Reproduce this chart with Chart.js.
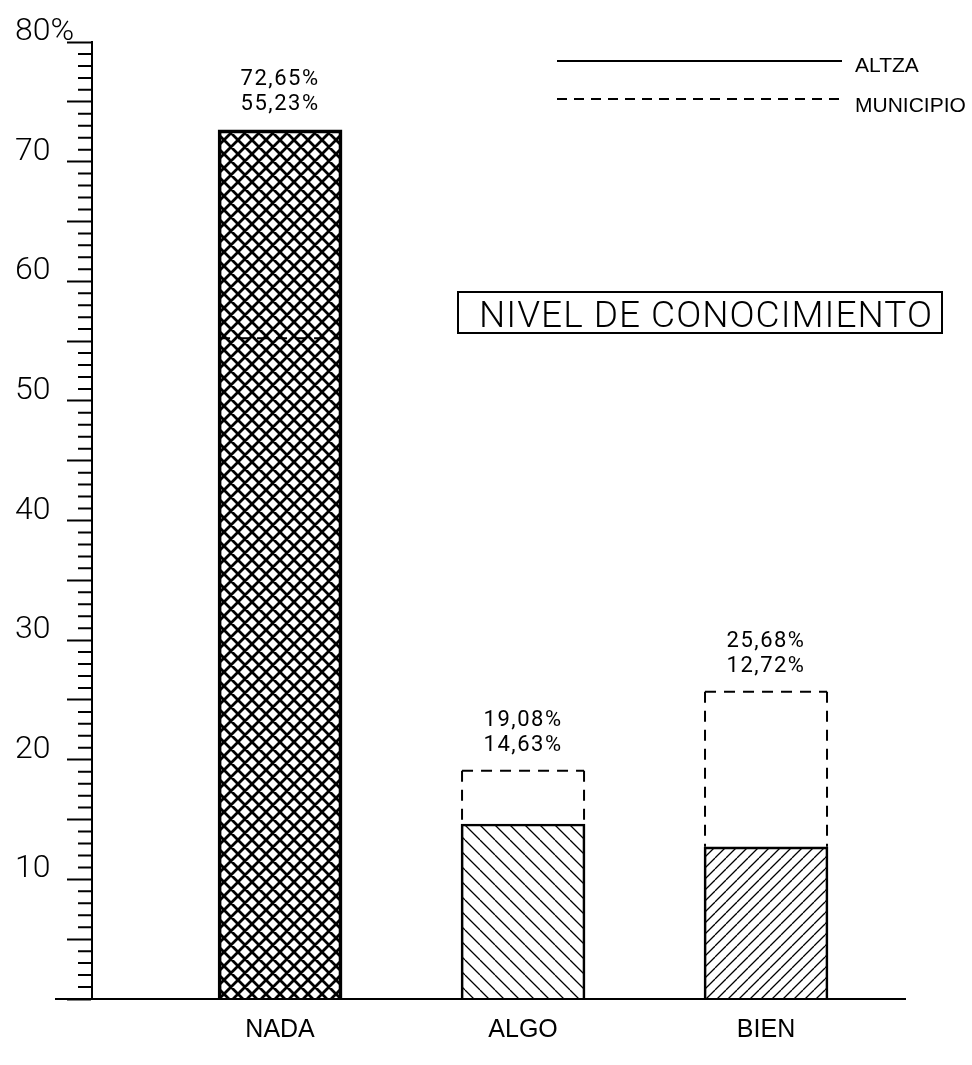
<!DOCTYPE html>
<html>
<head>
<meta charset="utf-8">
<title>Nivel de conocimiento</title>
<script src="https://cdn.jsdelivr.net/npm/chart.js@4.4.0/dist/chart.umd.min.js"></script>
<style>
  html, body { margin: 0; padding: 0; background: #fff; }
  #wrap { width: 972px; height: 1065px; position: relative; }
</style>
</head>
<body>
<div id="wrap"><canvas id="chart"></canvas></div>
<script>
const categories = ['NADA', 'ALGO', 'BIEN'];
const altzaValues = [72.65, 14.63, 12.72];
const municipioValues = [55.23, 19.08, 25.68];
const seriesNames = ['ALTZA', 'MUNICIPIO'];
const yMax = 80;
const chartTitle = 'NIVEL DE CONOCIMIENTO';

// diagonal hatch tile, '\\' and/or '/' lines
function makeHatch(size, width, dirs) {
  const c = document.createElement('canvas');
  c.width = size;
  c.height = size;
  const g = c.getContext('2d');
  g.strokeStyle = '#000';
  g.lineWidth = width;
  g.beginPath();
  for (let k = -1; k <= 1; k++) {
    if (dirs.indexOf('\\') >= 0) {
      g.moveTo(k * size, 0);
      g.lineTo(k * size + size, size);
    }
    if (dirs.indexOf('/') >= 0) {
      g.moveTo(k * size + size, 0);
      g.lineTo(k * size, size);
    }
  }
  g.stroke();
  return g.createPattern(c, 'repeat');
}

const hatches = [
  makeHatch(14, 2.8, '\\/'),
  makeHatch(15, 1.3, '\\'),
  makeHatch(11, 1.3, '/')
];

function fmt(v) {
  return v.toFixed(2).replace('.', ',') + '%';
}

// short ticks every unit, and the baseline running past the axis
const minorTicks = {
  id: 'minorTicks',
  afterDraw(chart) {
    const ctx = chart.ctx;
    const y = chart.scales.y;
    const x0 = chart.chartArea.left;
    ctx.save();
    ctx.strokeStyle = '#000';
    ctx.lineWidth = 2;
    ctx.beginPath();
    for (let v = 0; v <= yMax; v++) {
      if (v % 5 === 0) continue;
      const py = y.getPixelForValue(v);
      ctx.moveTo(x0 - 14, py);
      ctx.lineTo(x0, py);
    }
    const p0 = y.getPixelForValue(0);
    ctx.moveTo(x0 - 37, p0);
    ctx.lineTo(x0, p0);
    ctx.stroke();
    ctx.restore();
  }
};

// municipio bars are dashed outlines, plus the value labels on top
const municipioOutline = {
  id: 'municipioOutline',
  afterDatasetsDraw(chart) {
    const ctx = chart.ctx;
    const solid = chart.getDatasetMeta(0).data;
    const dashed = chart.getDatasetMeta(1).data;
    ctx.save();
    ctx.strokeStyle = '#000';
    ctx.lineWidth = 2;
    ctx.setLineDash([11, 8]);
    dashed.forEach((bar, i) => {
      const l = bar.x - bar.width / 2 + 1;
      const r = bar.x + bar.width / 2 - 1;
      ctx.beginPath();
      ctx.moveTo(l, bar.y);
      ctx.lineTo(r, bar.y);
      ctx.stroke();
      // sides only where the solid bar does not already cover them
      const stop = solid[i].y;
      if (stop > bar.y) {
        ctx.beginPath();
        ctx.moveTo(l, bar.y);
        ctx.lineTo(l, stop);
        ctx.stroke();
        ctx.beginPath();
        ctx.moveTo(r, bar.y);
        ctx.lineTo(r, stop);
        ctx.stroke();
      }
    });
    ctx.setLineDash([]);

    ctx.fillStyle = '#000';
    ctx.font = '22px Roboto';
    ctx.letterSpacing = '1.5px';
    ctx.textAlign = 'center';
    ctx.textBaseline = 'middle';
    categories.forEach((c, i) => {
      const top = Math.min(solid[i].y, dashed[i].y);
      const vals = [altzaValues[i], municipioValues[i]].sort((p, q) => q - p);
      ctx.fillText(fmt(vals[0]), solid[i].x, top - 50);
      ctx.fillText(fmt(vals[1]), solid[i].x, top - 25);
    });
    ctx.restore();
  }
};

// line legend in the top right, and the boxed title
const lineLegend = {
  id: 'lineLegend',
  afterDraw(chart) {
    const ctx = chart.ctx;
    const dashes = [[], [10, 7]];
    ctx.save();
    ctx.strokeStyle = '#000';
    ctx.fillStyle = '#000';
    ctx.lineWidth = 2;
    ctx.font = '21px "Liberation Sans", Arial, sans-serif';
    ctx.textBaseline = 'alphabetic';
    chart.data.datasets.forEach((ds, i) => {
      const ly = 61 + i * 38;
      ctx.setLineDash(dashes[i]);
      ctx.beginPath();
      ctx.moveTo(557, ly);
      ctx.lineTo(842, ly);
      ctx.stroke();
      ctx.fillText(ds.label, 855, ly + 11 + i * 2);
    });
    ctx.setLineDash([]);

    ctx.lineWidth = 2;
    ctx.strokeRect(458, 292, 484, 41);
    ctx.font = '300 37px Roboto';
    ctx.letterSpacing = '0px';
    const w0 = ctx.measureText(chartTitle).width;
    const spacing = (453 - w0) / (chartTitle.length - 1);
    ctx.letterSpacing = spacing + 'px';
    ctx.textAlign = 'left';
    ctx.fillText(chartTitle, 479, 327);
    ctx.restore();
  }
};

new Chart(document.getElementById('chart'), {
  type: 'bar',
  data: {
    datasets: [
      {
        label: seriesNames[0],
        data: altzaValues.map((v, i) => ({ x: i + 1, y: v })),
        backgroundColor: hatches,
        borderColor: '#000',
        borderWidth: [3, 2, 2],
        borderSkipped: 'start',
        barThickness: 124,
        grouped: false
      },
      {
        label: seriesNames[1],
        data: municipioValues.map((v, i) => ({ x: i + 1, y: v })),
        backgroundColor: 'rgba(0,0,0,0)',
        borderWidth: 0,
        barThickness: 124,
        grouped: false
      }
    ]
  },
  options: {
    responsive: true,
    maintainAspectRatio: false,
    animation: false,
    layout: { padding: { left: 15, top: 42, right: 67, bottom: 4 } },
    plugins: {
      legend: { display: false },
      tooltip: { enabled: false }
    },
    scales: {
      x: {
        type: 'linear',
        offset: false,
        min: 0.226,
        max: 3.572,
        grid: { display: false, drawTicks: false, offset: false },
        border: { display: true, color: '#000', width: 2 },
        afterBuildTicks: scale => {
          scale.ticks = categories.map((c, i) => ({ value: i + 1 }));
        },
        ticks: {
          autoSkip: false,
          padding: 16,
          color: '#000',
          font: { family: '"Liberation Sans", Arial, sans-serif', size: 25 },
          callback: v => categories[v - 1] || ''
        }
      },
      y: {
        min: 0,
        max: yMax,
        afterFit: scale => { scale.width = 77; },
        grid: {
          drawOnChartArea: false,
          tickLength: 25,
          tickWidth: 2,
          tickColor: c => (c.tick && c.tick.value % 5 === 0) ? '#000' : 'rgba(0,0,0,0)'
        },
        border: { display: true, color: '#000', width: 2 },
        ticks: {
          stepSize: 1,
          autoSkip: false,
          crossAlign: 'far',
          labelOffset: -10,
          color: '#000',
          font: { family: 'Roboto', weight: 300, size: 32 },
          callback: v => v === yMax ? '80%' : (v > 0 && v % 10 === 0 ? String(v) : '')
        }
      }
    }
  },
  plugins: [minorTicks, municipioOutline, lineLegend]
});
</script>
</body>
</html>
